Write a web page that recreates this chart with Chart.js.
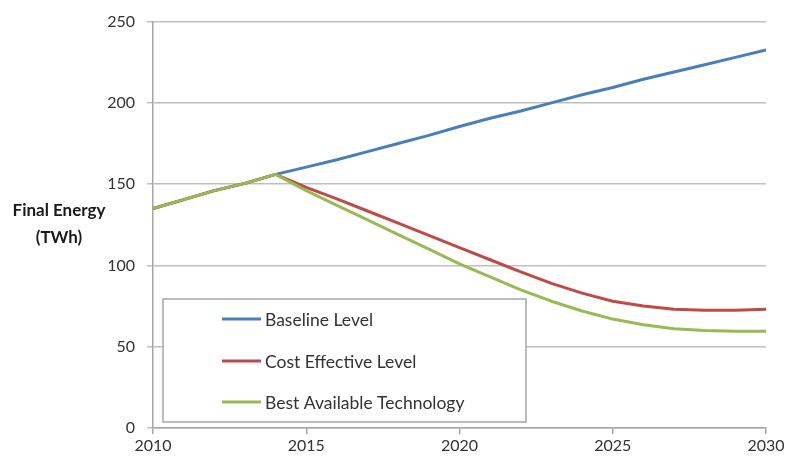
<!DOCTYPE html>
<html>
<head>
<meta charset="utf-8">
<script src="https://cdn.jsdelivr.net/npm/chart.js@4.4.1/dist/chart.umd.min.js"></script>
<style>
  body { margin: 0; background: #fff; }
</style>
</head>
<body>
<canvas id="grafico" width="787" height="461"></canvas>
<script>
const anni = [2010, 2011, 2012, 2013, 2014, 2015, 2016, 2017, 2018, 2019, 2020,
  2021, 2022, 2023, 2024, 2025, 2026, 2027, 2028, 2029, 2030];
const baseline = [135, 140.5, 146, 150.5, 156, 160.5, 165, 170, 175, 180, 185.5,
  190.5, 195, 200, 205, 209.5, 214.5, 219, 223.5, 228, 232.5];
const costEffective = [135, 140.5, 146, 150.5, 156, 148, 141, 133.5, 126, 118.5, 111,
  103.5, 96, 89, 83, 78, 75, 73, 72.5, 72.5, 73];
const bestAvailable = [135, 140.5, 146, 150.5, 156, 146, 137, 128, 119, 110, 101,
  93, 85, 78, 72, 67, 63.5, 61, 60, 59.5, 59.5];
const yTicks = [0, 50, 100, 150, 200, 250];
const xTicks = [2010, 2015, 2020, 2025, 2030];
const nomi = ["Baseline Level", "Cost Effective Level", "Best Available Technology"];
const colori = ["#4a7ebb", "#be4b48", "#98b954"];

const FONT = "Lato, 'Open Sans', sans-serif";

function punti(valori) {
  return anni.map((a, i) => ({ x: a, y: valori[i] }));
}

// titolo asse y orizzontale + legenda dentro l'area del grafico
const decorazioni = {
  id: "decorazioni",
  afterDraw(chart) {
    const ctx = chart.ctx;
    ctx.save();
    ctx.fillStyle = "#1a1a1a";
    ctx.font = "bold 17px " + FONT;
    ctx.textAlign = "center";
    ctx.textBaseline = "middle";
    ctx.fillText("Final Energy", 59, 211);
    ctx.fillText("(TWh)", 59, 238);

    // box legenda
    ctx.fillStyle = "#fff";
    ctx.fillRect(163, 299, 363, 123);
    ctx.strokeStyle = "#a6a6a6";
    ctx.lineWidth = 1.5;
    ctx.strokeRect(163, 299, 363, 123);

    const righe = [319, 361, 402];
    ctx.font = "17.5px " + FONT;
    ctx.textAlign = "left";
    chart.data.datasets.forEach((ds, i) => {
      ctx.strokeStyle = ds.borderColor;
      ctx.lineWidth = 3;
      ctx.beginPath();
      ctx.moveTo(222, righe[i]);
      ctx.lineTo(261, righe[i]);
      ctx.stroke();
      ctx.fillStyle = "#333";
      ctx.fillText(ds.label, 265, righe[i] + 1);
    });
    ctx.restore();
  }
};

const serie = [baseline, costEffective, bestAvailable];
const datasets = serie.map((v, i) => ({
  label: nomi[i],
  data: punti(v),
  borderColor: colori[i],
  backgroundColor: colori[i],
  borderWidth: 3,
  pointRadius: 0,
  tension: 0,
  borderJoinStyle: "round",
  order: 3 - i
}));

new Chart(document.getElementById("grafico"), {
  type: "line",
  data: { datasets: datasets },
  options: {
    responsive: false,
    animation: false,
    layout: { padding: { top: 20, right: 21, left: 0, bottom: 0 } },
    plugins: { legend: { display: false }, tooltip: { enabled: false } },
    scales: {
      x: {
        type: "linear",
        min: 2010,
        max: 2030,
        afterFit: s => { s.height = 33; },
        afterBuildTicks: s => { s.ticks = xTicks.map(v => ({ value: v })); },
        ticks: {
          color: "#333",
          font: { family: FONT, size: 16 },
          padding: 2,
          maxRotation: 0,
          callback: v => String(v)
        },
        grid: { drawOnChartArea: false, color: "#a6a6a6", lineWidth: 1.5, tickLength: 6 },
        border: { color: "#a6a6a6", width: 1.5 }
      },
      y: {
        min: 0,
        max: 250,
        afterFit: s => { s.width = 153; },
        afterBuildTicks: s => { s.ticks = yTicks.map(v => ({ value: v })); },
        ticks: {
          color: "#333",
          font: { family: FONT, size: 16 },
          padding: 12
        },
        grid: { color: "#bfbfbf", lineWidth: 1.5, tickLength: 6 },
        border: { color: "#a6a6a6", width: 1.5 }
      }
    }
  },
  plugins: [decorazioni]
});
</script>
</body>
</html>
